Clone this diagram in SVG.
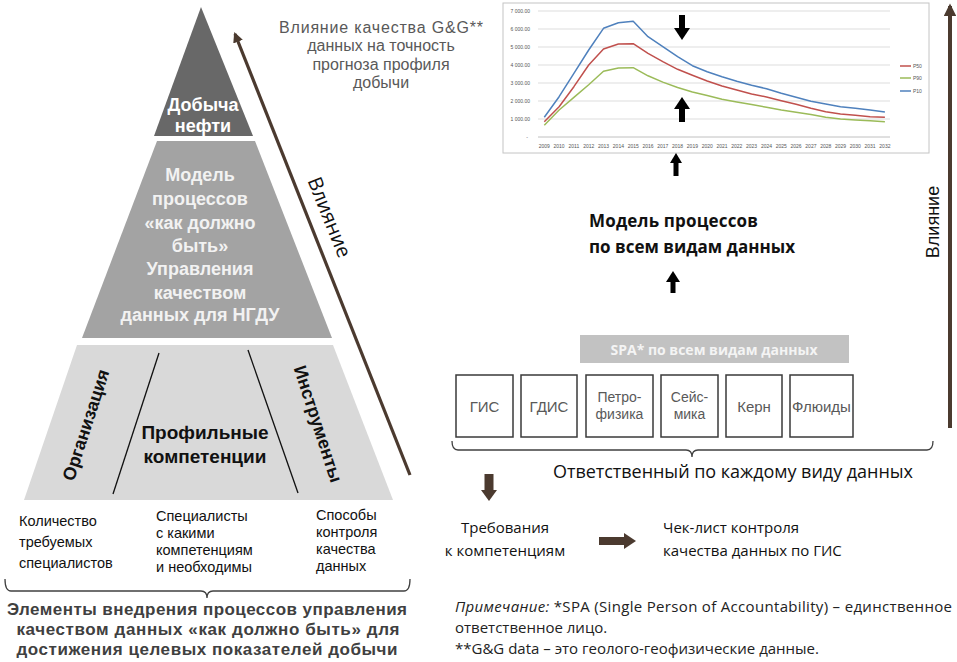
<svg xmlns="http://www.w3.org/2000/svg" width="957" height="662" viewBox="0 0 957 662">
<defs>
<style>
.ar{font-family:"Liberation Sans",Arial,sans-serif}
.os{font-family:"Open Sans","Noto Sans",sans-serif}
.b{font-weight:bold}
.c{text-anchor:middle}
.m{dominant-baseline:central}
.grid{stroke:#d4d4d4;stroke-width:0.8}
.tick{font-family:"Liberation Sans",Arial,sans-serif;font-size:5px;fill:#555}
.box{fill:#fff;stroke:#3a3a3a;stroke-width:1.5}
.bt{font-family:"Liberation Sans",Arial,sans-serif;font-size:15px;fill:#595959;text-anchor:middle;dominant-baseline:central}
.bt2{font-size:14px}
.brace{fill:none;stroke:#404040;stroke-width:1.3}
.brown{stroke:#4b3a2f}
</style>
<marker id="ah" viewBox="0 0 10 10" refX="8" refY="5" markerWidth="3.2" markerHeight="3.2" orient="auto">
<path d="M0,0 L10,5 L0,10 z" fill="#4b3a2f"/>
</marker>
</defs>
<rect width="957" height="662" fill="#fff"/>

<!-- Pyramid -->
<g id="pyramid-top">
<polygon points="201,7 253,136 154,136" fill="#686868"/>
<text class="ar b c m" font-size="18" fill="#fff" x="203" y="105">Добыча</text>
<text class="ar b c m" font-size="18" fill="#fff" x="203" y="126">нефти</text>
</g>
<g id="pyramid-middle">
<polygon points="157,141 255,141 332,338 82,338" fill="#a3a3a3"/>
<g class="ar b c m" font-size="18" fill="#f2f2f2">
<text x="200" y="175">Модель</text>
<text x="200" y="199">процессов</text>
<text x="200" y="223">«как должно</text>
<text x="200" y="246">быть»</text>
<text x="200" y="269">Управления</text>
<text x="200" y="293">качеством</text>
<text x="200" y="315">данных для НГДУ</text>
</g>
</g>
<g id="pyramid-bottom">
<polygon points="77,345 333,345 393,500 24,500" fill="#d9d9d9"/>
<line x1="159" y1="353" x2="113" y2="494" stroke="#111" stroke-width="1.3"/>
<line x1="248" y1="350" x2="298" y2="493" stroke="#111" stroke-width="1.3"/>
<text class="ar b c m" font-size="18" fill="#111" transform="translate(86,425) rotate(-72)">Организация</text>
<text class="ar b c m" font-size="18" fill="#111" transform="translate(318,424) rotate(72)">Инструменты</text>
<text class="ar b c m" font-size="19" fill="#111" x="205" y="432">Профильные</text>
<text class="ar b c m" font-size="19" fill="#111" x="205" y="456">компетенции</text>
</g>

<g id="left-captions" class="ar" font-size="14.5" fill="#111">
<text x="19" y="526">Количество</text>
<text x="19" y="547">требуемых</text>
<text x="19" y="568">специалистов</text>
<text x="156" y="521">Специалисты</text>
<text x="156" y="538">с какими</text>
<text x="156" y="555">компетенциям</text>
<text x="156" y="572">и необходимы</text>
<text x="316" y="520">Способы</text>
<text x="316" y="537">контроля</text>
<text x="316" y="554">качества</text>
<text x="316" y="571">данных</text>
</g>

<g id="left-summary">
<text class="ar b c" font-size="17" fill="#404040" x="207" y="615" textLength="400">Элементы внедрения процессов управления</text>
<text class="ar b c" font-size="17" fill="#404040" x="208" y="635" textLength="383">качеством данных «как должно быть» для</text>
<text class="ar b c" font-size="17" fill="#404040" x="207" y="655" textLength="381">достижения целевых показателей добычи</text>
</g>

<g id="top-caption" class="ar c m" font-size="16" fill="#595959">
<text x="381" y="27" textLength="204">Влияние качества G&amp;G**</text>
<text x="381" y="45.5">данных на точность</text>
<text x="381" y="64">прогноза профиля</text>
<text x="381" y="82.5">добычи</text>
</g>

<!-- Chart -->
<g id="chart">
<rect x="503" y="3" width="426" height="150" fill="#fff" stroke="#c4c4c4" stroke-width="1"/>
<g class="grid">
<line x1="538" y1="11" x2="890" y2="11"/>
<line x1="538" y1="29" x2="890" y2="29"/>
<line x1="538" y1="47" x2="890" y2="47"/>
<line x1="538" y1="65" x2="890" y2="65"/>
<line x1="538" y1="83" x2="890" y2="83"/>
<line x1="538" y1="101" x2="890" y2="101"/>
<line x1="538" y1="119" x2="890" y2="119"/>
</g>
<line x1="538" y1="137" x2="890" y2="137" stroke="#b0b0b0" stroke-width="0.8"/>
<g class="tick" text-anchor="end">
<text x="530" y="13">7 000.00</text>
<text x="530" y="31">6 000.00</text>
<text x="530" y="49">5 000.00</text>
<text x="530" y="67">4 000.00</text>
<text x="530" y="85">3 000.00</text>
<text x="530" y="103">2 000.00</text>
<text x="530" y="121">1 000.00</text>
<text x="528" y="139">-</text>
</g>
<g class="tick" text-anchor="middle">
<text x="544.3" y="148">2009</text><text x="559.1" y="148">2010</text><text x="573.9" y="148">2011</text><text x="588.7" y="148">2012</text>
<text x="603.5" y="148">2013</text><text x="618.4" y="148">2014</text><text x="633.2" y="148">2015</text><text x="648.0" y="148">2016</text>
<text x="662.8" y="148">2017</text><text x="677.6" y="148">2018</text><text x="692.4" y="148">2019</text><text x="707.2" y="148">2020</text>
<text x="722.0" y="148">2021</text><text x="736.8" y="148">2022</text><text x="751.6" y="148">2023</text><text x="766.5" y="148">2024</text>
<text x="781.3" y="148">2025</text><text x="796.1" y="148">2026</text><text x="810.9" y="148">2027</text><text x="825.7" y="148">2028</text>
<text x="840.5" y="148">2029</text><text x="855.3" y="148">2030</text><text x="870.1" y="148">2031</text><text x="884.9" y="148">2032</text>
</g>
<g fill="none" stroke-width="1.5" stroke-linejoin="round">
<polyline stroke="#4f81bd" points="544.3,117.3 559.1,96.7 573.9,73.3 588.7,50 603.5,28.3 618.4,22.7 633.2,21.3 648,36.7 662.8,46.7 677.6,56.7 692.4,65.7 707.2,71.7 722,76.7 736.8,81.3 751.6,85.3 766.5,88.7 781.3,93.3 796.1,97.3 810.9,101.3 825.7,104 840.5,106.7 855.3,108.3 870.1,110 884.9,112"/>
<polyline stroke="#c0504d" points="544.3,121.7 559.1,106.7 573.9,86.7 588.7,65 603.5,49 618.4,44 633.2,43.7 648,53.3 662.8,61.7 677.6,69.3 692.4,75.3 707.2,81 722,86 736.8,90 751.6,94 766.5,97 781.3,100.7 796.1,104.3 810.9,108.3 825.7,111.7 840.5,114 855.3,115.3 870.1,116.7 884.9,117.3"/>
<polyline stroke="#9bbb59" points="544.3,125.3 559.1,110 573.9,97.4 588.7,84.8 603.5,71.3 618.4,68.1 633.2,67.7 648,75.8 662.8,82.1 677.6,87.5 692.4,92 707.2,95.6 722,99.2 736.8,101.9 751.6,104.6 766.5,107.3 781.3,110 796.1,112.2 810.9,114.5 825.7,117.2 840.5,119 855.3,119.9 870.1,120.8 884.9,121.7"/>
</g>
<g stroke-width="1.5">
<line x1="900" y1="66" x2="911" y2="66" stroke="#c0504d"/>
<line x1="900" y1="78" x2="911" y2="78" stroke="#9bbb59"/>
<line x1="900" y1="91" x2="911" y2="91" stroke="#4f81bd"/>
</g>
<g class="tick">
<text x="913" y="68">P50</text>
<text x="913" y="80">P90</text>
<text x="913" y="93">P10</text>
</g>
<g fill="#000">
<rect x="679" y="15" width="6" height="14"/>
<polygon points="674,28 690,28 682,40"/>
<rect x="679" y="108" width="6" height="14"/>
<polygon points="682,97 690,109 674,109"/>
</g>
</g>

<g id="model-all">
<text class="os b" font-size="17" fill="#111" x="589" y="227" textLength="169">Модель процессов</text>
<text class="os b" font-size="17" fill="#111" x="589" y="253" textLength="206">по всем видам данных</text>
</g>

<g id="spa">
<rect x="580" y="335" width="269" height="28" fill="#c2c2c2"/>
<text class="os b c m" font-size="14" fill="#f4f4f4" x="714" y="349">SPA* по всем видам данных</text>
</g>

<g id="box-gis"><rect class="box" x="456" y="375" width="57" height="62"/><text class="bt" x="484.5" y="406">ГИС</text></g>
<g id="box-gdis"><rect class="box" x="521" y="375" width="56" height="62"/><text class="bt" x="549" y="406">ГДИС</text></g>
<g id="box-petro"><rect class="box" x="586" y="375" width="67" height="62"/><text class="bt bt2" x="619.5" y="397">Петро-</text><text class="bt bt2" x="619.5" y="414">физика</text></g>
<g id="box-seis"><rect class="box" x="661" y="375" width="57" height="62"/><text class="bt bt2" x="689.5" y="397">Сейс-</text><text class="bt bt2" x="689.5" y="414">мика</text></g>
<g id="box-kern"><rect class="box" x="726" y="375" width="56" height="62"/><text class="bt" x="754" y="406">Керн</text></g>
<g id="box-fluid"><rect class="box" x="790" y="375" width="63" height="62"/><text class="bt" x="821.5" y="406">Флюиды</text></g>

<g id="responsible">
<text class="os c m" font-size="18" fill="#111" x="733" y="471" textLength="360">Ответственный по каждому виду данных</text>
</g>

<g id="requirements" class="os" font-size="15" fill="#111">
<text class="c" x="505" y="533">Требования</text>
<text class="c" x="505" y="556">к компетенциям</text>
</g>
<g id="checklist" class="os" font-size="15" fill="#111">
<text x="663" y="533">Чек-лист контроля</text>
<text x="663" y="556">качества данных по ГИС</text>
</g>

<g id="note" class="os" font-size="15" fill="#222">
<text x="455" y="612" textLength="497"><tspan font-style="italic">Примечание:</tspan> *SPA (Single Person of Accountability) – единственное</text>
<text x="455" y="633">ответственное лицо.</text>
<text x="455" y="654">**G&amp;G data – это геолого-геофизические данные.</text>
</g>

<g id="influence-right">
<text class="ar c m" font-size="18" fill="#111" transform="translate(933,222) rotate(-90)">Влияние</text>
</g>
<g id="influence-left">
<text class="os c m" font-size="20" fill="#111" transform="translate(330,217) rotate(68)">Влияние</text>
</g>

<g id="connectors">
<line class="brown" x1="410" y1="475" x2="235" y2="34" stroke-width="3.2" marker-end="url(#ah)"/>
<line class="brown" x1="950" y1="428" x2="950" y2="6" stroke-width="4" marker-end="url(#ah)"/>
<path class="brace" d="M5,579 Q5,591 11,591 L201,591 Q207,591 207,598 Q207,591 213,591 L404,591 Q410,591 410,579"/>
<path class="brace" d="M452,441 Q452,450 458,450 L686,450 Q692,450 692,457 Q692,450 698,450 L927,450 Q933,450 933,441"/>
<g fill="#000">
<rect x="673.5" y="162" width="5" height="14"/>
<polygon points="676,153 682,163 670,163"/>
<rect x="670.5" y="281" width="5" height="12"/>
<polygon points="673,271 680,282 666,282"/>
</g>
<g fill="#4b3a2f">
<rect x="484.5" y="474" width="9" height="17"/>
<polygon points="481,490 497,490 489,501"/>
<rect x="599" y="537" width="26" height="8"/>
<polygon points="624,533 624,549 636,541"/>
</g>
</g>
</svg>
